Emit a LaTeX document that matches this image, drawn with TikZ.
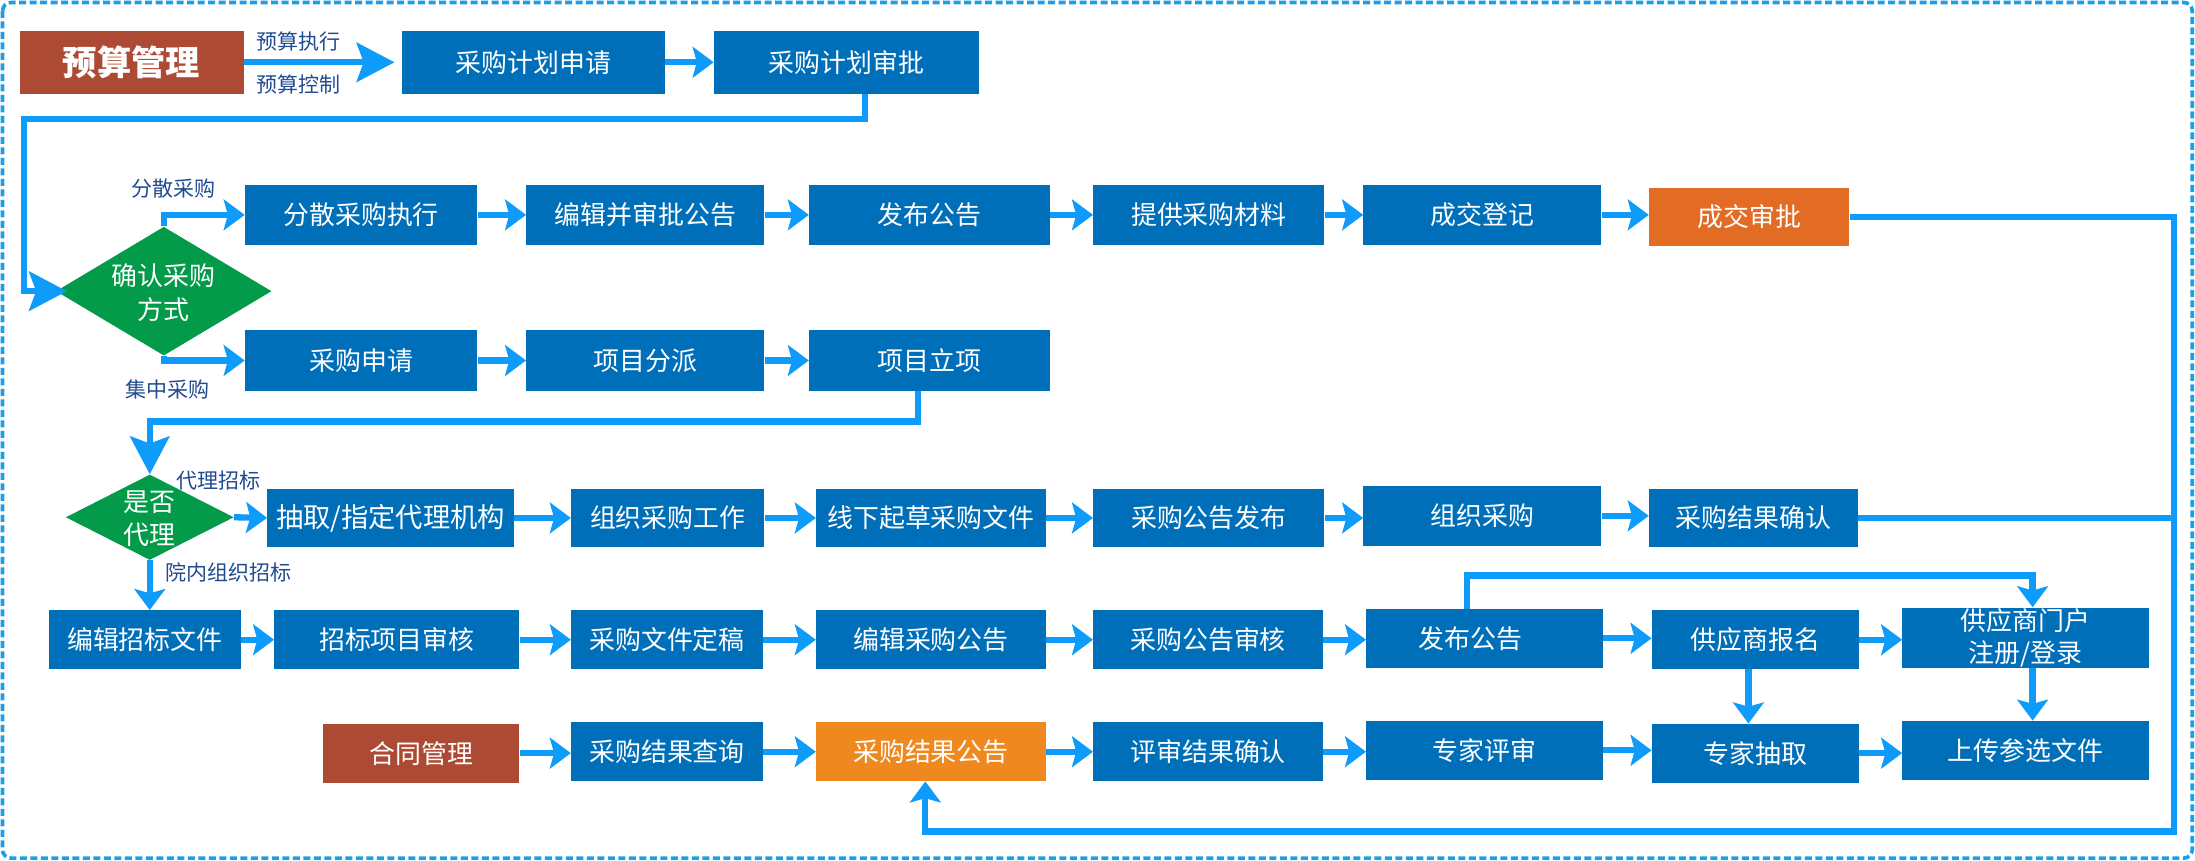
\documentclass[tikz,border=0pt]{standalone}
\usepackage{fontspec}
\setmainfont{Noto Sans CJK SC}
\usetikzlibrary{arrows.meta,shapes.geometric}
\definecolor{boxblue}{RGB}{0,111,186}
\definecolor{arrblue}{RGB}{14,155,250}
\definecolor{brownred}{RGB}{172,74,51}
\definecolor{orangeA}{RGB}{227,108,37}
\definecolor{orangeB}{RGB}{239,137,31}
\definecolor{dgreen}{RGB}{3,155,74}
\definecolor{lblue}{RGB}{31,75,145}
\definecolor{frameblue}{RGB}{27,160,232}
\begin{document}
\begin{tikzpicture}[x=1pt,y=-1pt,
  box/.style={rectangle, fill=boxblue, text=white, inner sep=0pt, align=center, font=\fontsize{18.5}{23}\selectfont},
  brownbox/.style={box, fill=brownred},
  dia/.style={diamond, fill=dgreen, inner sep=0pt},
  dtext/.style={text=white, align=center, font=\fontsize{18.5}{24}\selectfont, inner sep=0pt},
  lab/.style={text=lblue, font=\fontsize{15}{16}\selectfont, inner sep=0pt},
  flow/.style={draw=arrblue, line width=4.5pt, -{Stealth[length=15pt,width=22pt,inset=3pt]}},
  bigflow/.style={draw=arrblue, line width=4.5pt, -{Stealth[length=27pt,width=28pt,inset=5pt]}},
  route/.style={draw=arrblue, line width=4.5pt},
]
\useasboundingbox (0,0) rectangle (1568,615);
\draw[frameblue, line width=2.6pt, dash pattern=on 5pt off 2.5pt, rounded corners=6pt] (1.8,1.8) rectangle (1566,613);

% row 1
\node[brownbox, minimum width=160pt, minimum height=45pt, font=\fontsize{24.5}{26}\selectfont\bfseries] (bud) at (94,44.5) {预算管理};
\node[box, minimum width=188pt, minimum height=45pt] (p1) at (381,44.5) {采购计划申请};
\node[box, minimum width=189pt, minimum height=45pt] (p2) at (604.5,44.5) {采购计划审批};
\node[lab] (l1) at (213,30) {预算执行};
\node[lab] (l2) at (213,60) {预算控制};

% decision 1
\node[dia, minimum width=154pt, minimum height=92pt] (d1) at (117,208) {};
\node[dtext] (d1t) at (117,209) {确认采购\\方式};

% row 2
\node[box, minimum width=166pt, minimum height=43pt] (r2a) at (258,153.5) {分散采购执行};
\node[box, minimum width=170pt, minimum height=43pt] (r2b) at (461,153.5) {编辑并审批公告};
\node[box, minimum width=172pt, minimum height=43pt] (r2c) at (664,153.5) {发布公告};
\node[box, minimum width=165pt, minimum height=43pt] (r2d) at (863.5,153.5) {提供采购材料};
\node[box, minimum width=170pt, minimum height=43pt] (r2e) at (1059,153.5) {成交登记};
\node[box, fill=orangeA, minimum width=143pt, minimum height=42pt] (r2f) at (1249.5,155) {成交审批};
\node[lab] (l3) at (124,135) {分散采购};

% row 3
\node[box, minimum width=166pt, minimum height=43pt] (r3a) at (258,257.5) {采购申请};
\node[box, minimum width=170pt, minimum height=43pt] (r3b) at (461,257.5) {项目分派};
\node[box, minimum width=172pt, minimum height=43pt] (r3c) at (664,257.5) {项目立项};
\node[lab] (l4) at (119.5,278) {集中采购};

% decision 2
\node[dia, minimum width=120pt, minimum height=61pt] (d2) at (107,369.5) {};
\node[dtext] (d2t) at (107,370.5) {是否\\代理};
\node[lab] (l5) at (156,343.5) {代理招标};
\node[lab] (l6) at (163,409) {院内组织招标};

% agent row
\node[box, minimum width=176pt, minimum height=42pt, font=\fontsize{19.5}{23}\selectfont] (a1) at (279,370) {抽取/指定代理机构};
\node[box, minimum width=138pt, minimum height=42pt] (a2) at (477,370) {组织采购工作};
\node[box, minimum width=164pt, minimum height=42pt] (a3) at (665,370) {线下起草采购文件};
\node[box, minimum width=165pt, minimum height=42pt] (a4) at (863.5,370) {采购公告发布};
\node[box, minimum width=170pt, minimum height=43pt] (a5) at (1059,368.5) {组织采购};
\node[box, minimum width=149pt, minimum height=42pt] (a6) at (1252.5,370) {采购结果确认};

% row 4
\node[box, minimum width=137pt, minimum height=42pt] (b1) at (103.5,457) {编辑招标文件};
\node[box, minimum width=175pt, minimum height=42pt] (b2) at (283.5,457) {招标项目审核};
\node[box, minimum width=137pt, minimum height=42pt] (b3) at (476.5,457) {采购文件定稿};
\node[box, minimum width=164pt, minimum height=42pt] (b4) at (665,457) {编辑采购公告};
\node[box, minimum width=164pt, minimum height=42pt] (b5) at (863,457) {采购公告审核};
\node[box, minimum width=169pt, minimum height=42pt] (b6) at (1060.5,456) {发布公告\hspace*{20pt}};
\node[box, minimum width=148pt, minimum height=42pt] (b7) at (1254,457) {供应商报名};
\node[box, minimum width=176pt, minimum height=43pt] (b8) at (1447,455.5) {供应商门户\\注册/登录};

% row 5
\node[brownbox, minimum width=140pt, minimum height=42pt] (c1) at (301,538) {合同管理};
\node[box, minimum width=137pt, minimum height=42pt] (c2) at (476.5,537) {采购结果查询};
\node[box, fill=orangeB, minimum width=164pt, minimum height=42pt] (c3) at (665,537) {采购结果公告};
\node[box, minimum width=164pt, minimum height=42pt] (c4) at (863,537) {评审结果确认};
\node[box, minimum width=169pt, minimum height=42pt] (c5) at (1060.5,536) {专家评审};
\node[box, minimum width=148pt, minimum height=42pt] (c6) at (1254,538) {专家抽取};
\node[box, minimum width=176pt, minimum height=42pt] (c7) at (1447,536) {上传参选文件};

% helper coordinates
\coordinate (k1) at (17,85);
\coordinate (k2) at (107,301);
\coordinate (k3) at (1452,411);
\coordinate (rr) at (1553,594);

% connectors
\draw[bigflow, shorten >=5pt] (bud.east) -- (bud.east -| p1.west);
\draw[flow] (p1.east) -- (p2.west);
\draw[bigflow, shorten >=-8pt] ([xshift=13.5pt]p2.south) |- (k1) |- (d1.west);
\draw[flow] (d1.north) |- (r2a.west);
\draw[flow] (d1.south) |- (r3a.west);
\draw[flow] (r2a.east) -- (r2b.west);
\draw[flow] (r2b.east) -- (r2c.west);
\draw[flow] (r2c.east) -- (r2d.west);
\draw[flow] (r2d.east) -- (r2e.west);
\draw[flow] (r2e.east) -- (r2e.east -| r2f.west);
\draw[flow] (r2f.east) -| (rr) -| ([xshift=-4pt]c3.south);
\draw[flow] (r3a.east) -- (r3b.west);
\draw[flow] (r3b.east) -- (r3c.west);
\draw[bigflow] ([xshift=-8pt]r3c.south) |- (k2) -- (d2.north);
\draw[flow] (d2.east) -- (a1.west);
\draw[flow] (a1.east) -- (a2.west);
\draw[flow] (a2.east) -- (a3.west);
\draw[flow] (a3.east) -- (a4.west);
\draw[flow] (a4.east) -- (a4.east -| a5.west);
\draw[flow] (a5.east) -- (a5.east -| a6.west);
\draw[route] (a6.east) -- (a6.east -| rr);
\draw[flow] (d2.south) -- (d2.south |- b1.north);
\draw[flow] (b1.east) -- (b2.west);
\draw[flow] (b2.east) -- (b3.west);
\draw[flow] (b3.east) -- (b4.west);
\draw[flow] (b4.east) -- (b5.west);
\draw[flow] (b5.east) -- (b5.east -| b6.west);
\draw[flow] (b6.east) -- (b6.east -| b7.west);
\draw[flow] (b7.east) -- (b7.east -| b8.west);
\draw[flow] ([xshift=-12.5pt]b6.north) |- (k3) -- (k3 |- b8.north);
\draw[flow] ([xshift=-5pt]b7.south) -- ([xshift=-5pt]c6.north);
\draw[flow] ([xshift=5pt]b8.south) -- ([xshift=5pt]c7.north);
\draw[flow] (c1.east) -- (c1.east -| c2.west);
\draw[flow] (c2.east) -- (c3.west);
\draw[flow] (c3.east) -- (c4.west);
\draw[flow] (c4.east) -- (c4.east -| c5.west);
\draw[flow] (c5.east) -- (c5.east -| c6.west);
\draw[flow] (c6.east) -- (c6.east -| c7.west);
\end{tikzpicture}
\end{document}
